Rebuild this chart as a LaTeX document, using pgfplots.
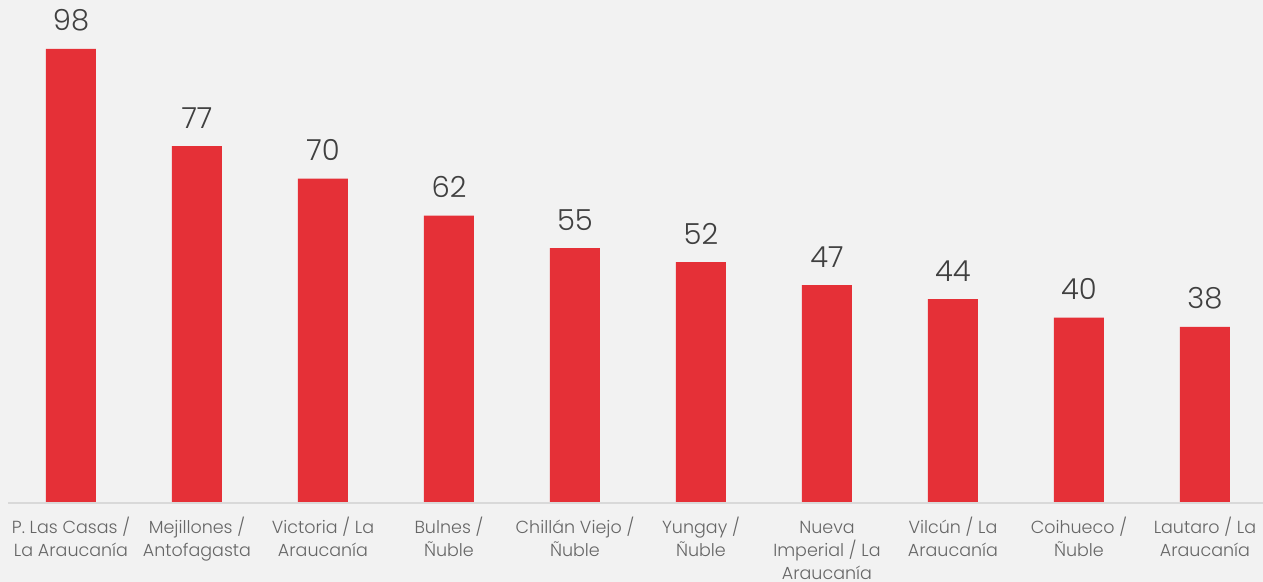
\documentclass[border=0pt]{standalone}
\usepackage{fontspec}
\setmainfont{Poppins}
\newfontfamily\lightfont{Poppins Light}
\usepackage{pgfplots}
\pgfplotsset{compat=1.18}
\definecolor{bg}{HTML}{F2F2F2}
\definecolor{barred}{HTML}{E53037}
\definecolor{axisgray}{HTML}{D9D9D9}
\definecolor{txtgray}{HTML}{666666}
\definecolor{valgray}{HTML}{404040}
\newcommand{\s}{\rule{0pt}{18bp}}
\begin{document}
\begin{tikzpicture}[x=1bp,y=1bp]
\fill[bg] (0,0) rectangle (1263,582);
\useasboundingbox (0,0) rectangle (1263,582);
\begin{axis}[
  at={(8bp,79bp)}, anchor=south west,
  scale only axis,
  width=1260bp, height=463.3bp,
  xmin=-0.5, xmax=9.5, ymin=0, ymax=100,
  ybar, bar width=50bp, bar shift=0pt,
  axis line style={draw=none},
  axis x line*=bottom,
  hide y axis,
  xtick=data,
  xtick style={draw=none},
  xticklabels={{\s P. Las Casas /\\La Araucanía},{\s Mejillones /\\Antofagasta},{\s Victoria / La\\Araucanía},{\s Bulnes /\\Ñuble},{\s Chillán Viejo /\\Ñuble},{\s Yungay /\\Ñuble},{\s Nueva\\Imperial / La\\Araucanía},{\s Vilcún / La\\Araucanía},{\s Coihueco /\\Ñuble},{\s Lautaro / La\\Araucanía}},
  xticklabel style={align=center, anchor=north, yshift=-5bp, text=txtgray, font=\lightfont\fontsize{17.5bp}{23bp}\selectfont},
  nodes near coords,
  /pgf/number format/assume math mode=true,
  every node near coord/.append style={anchor=base, yshift=18bp, text=valgray, font=\lightfont\fontsize{29bp}{32bp}\selectfont},
  clip=false,
]
\addplot[fill=barred, draw=none] coordinates {(0,98) (1,77) (2,70) (3,62) (4,55) (5,52) (6,47) (7,44) (8,40) (9,38)};
\draw[axisgray, line width=2bp] (axis cs:-0.5,0) -- (axis cs:9.5,0);
\end{axis}
\end{tikzpicture}
\end{document}
